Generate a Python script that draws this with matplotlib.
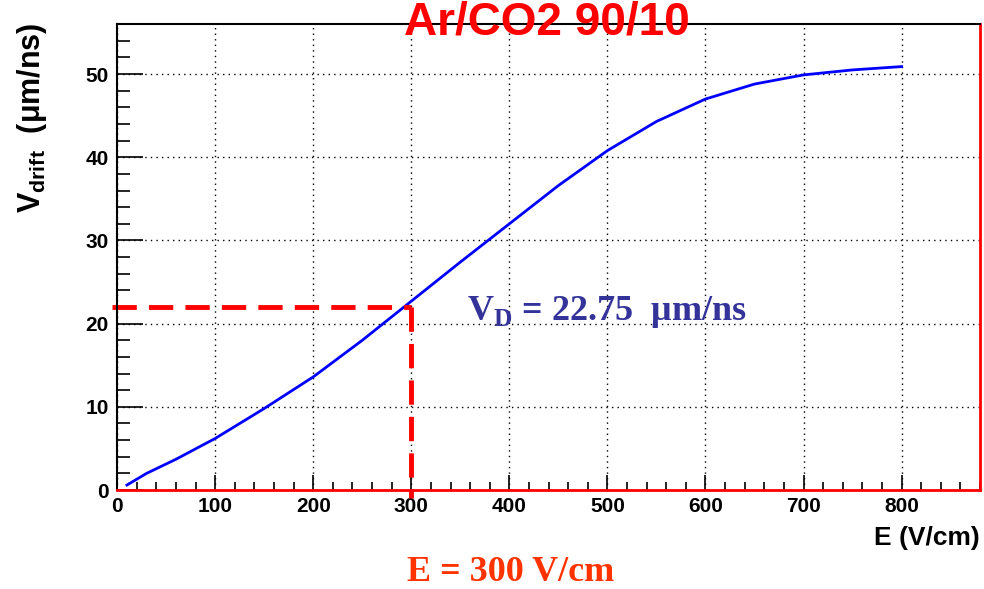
import matplotlib.pyplot as plt
from matplotlib.ticker import MultipleLocator

plt.rcParams["font.family"] = ["Liberation Sans", "DejaVu Sans"]
plt.rcParams["mathtext.fontset"] = "custom"
plt.rcParams["mathtext.bf"] = "Liberation Serif:bold"
plt.rcParams["mathtext.sf"] = "Liberation Sans:bold"

# drift velocity curve
field = [10, 30, 60, 100, 150, 200, 250, 300, 350, 400, 450, 500, 550, 600, 650, 700, 750, 800]
vdrift = [0.6, 2.0, 3.7, 6.2, 9.8, 13.6, 18.0, 22.7, 27.4, 32.0, 36.6, 40.8, 44.3, 47.0,
          48.8, 49.9, 50.5, 50.9]

e_mark = 300
v_mark = 22

fig = plt.figure(figsize=(9.84, 5.89), dpi=100)
ax = fig.add_axes([0.119, 0.168, 0.877, 0.791])

ax.plot(field, vdrift, color="blue", lw=2)

# red dashed guide lines
ax.plot([-5, e_mark], [v_mark, v_mark], color="red", lw=3.5, dashes=(5, 2.5), clip_on=False)
ax.plot([e_mark, e_mark], [v_mark, -1], color="red", lw=3.5, dashes=(5, 2.5), clip_on=False)

ax.set_xlim(0, 880)
ax.set_ylim(0, 56)
ax.xaxis.set_major_locator(MultipleLocator(100))
ax.xaxis.set_minor_locator(MultipleLocator(20))
ax.yaxis.set_major_locator(MultipleLocator(10))
ax.yaxis.set_minor_locator(MultipleLocator(2))

ax.grid(True, which="major", color="black", ls=(0, (1, 3)), lw=1)
ax.tick_params(axis="x", which="major", direction="in", length=11, width=1.2, pad=5)
ax.tick_params(axis="x", which="minor", direction="in", length=6, width=1.2)
ax.tick_params(axis="y", which="major", direction="in", length=19, width=1.2, pad=6)
ax.tick_params(axis="y", which="minor", direction="in", length=9.5, width=1.2)
for lab in ax.get_xticklabels() + ax.get_yticklabels():
    lab.set_fontweight("bold")
    lab.set_fontsize(15)

for side in ["left", "top"]:
    ax.spines[side].set_color("black")
    ax.spines[side].set_linewidth(1.5)
for side in ["bottom", "right"]:
    ax.spines[side].set_color("red")
    ax.spines[side].set_linewidth(2)

fig.text(0.556, 0.962, "Ar/CO2 90/10", color="red", fontsize=33, fontweight="bold",
         ha="center", va="center")

fig.text(0.033, 0.962, r"V$_\mathsf{drift}$  (μm/ns)", rotation=90, fontsize=22,
         fontweight="bold", ha="center", va="top")
fig.text(0.996, 0.087, "E (V/cm)", fontsize=19, fontweight="bold", ha="right", va="center")

fig.text(0.475, 0.47, r"V$_\mathbf{D}$ = 22.75  μm/ns", color="#333399", fontsize=26,
         fontweight="bold", family=["Liberation Serif", "DejaVu Serif"], ha="left", va="center")
fig.text(0.519, 0.028, "E = 300 V/cm", color="#ff3300", fontsize=26, fontweight="bold",
         family=["Liberation Serif", "DejaVu Serif"], ha="center", va="center")

plt.savefig("out.png", dpi=100)
